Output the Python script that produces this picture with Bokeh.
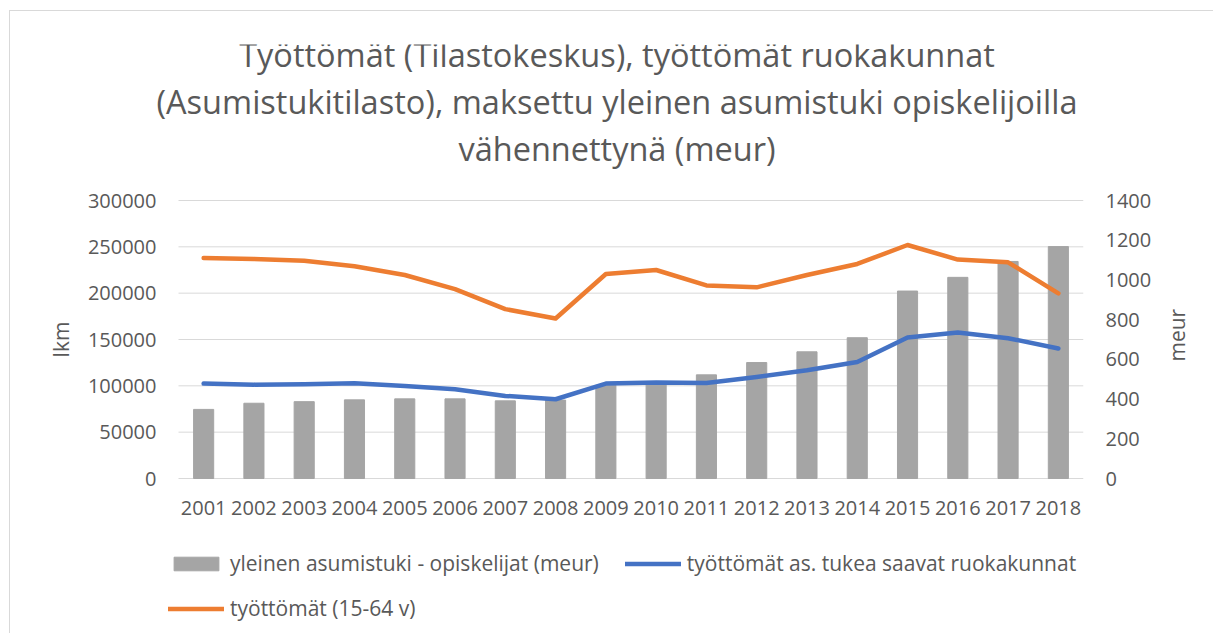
import math
from bokeh.plotting import figure
from bokeh.models import (Range1d, LinearAxis, FixedTicker, Legend, LegendItem,
                          BasicTickFormatter, ColumnDataSource)
from bokeh.core.properties import value
from bokeh.embed import file_html
from bokeh.resources import INLINE

years = list(range(2001, 2019))
year_labels = [str(y) for y in years]
asumistuki_opiskelijat_meur = [348, 379, 387, 396, 401, 401, 391, 395, 470, 475,
                               522, 584, 638, 709, 944, 1013, 1093, 1168]
tyottomat_ruokakunnat = [102400, 101300, 101700, 102800, 99900, 96300, 89100, 85500, 102400,
                         103500, 103100, 109600, 116800, 125800, 152200, 157600, 151400, 140300]
tyottomat_15_64 = [238000, 236900, 235100, 229000, 219600, 204400, 182800, 172700, 220700,
                   225000, 208400, 206300, 219600, 231500, 252000, 236200, 233300, 199800]
left_ticks = [0, 50000, 100000, 150000, 200000, 250000, 300000]
right_ticks = [0, 200, 400, 600, 800, 1000, 1200, 1400]
title_lines = ["Työttömät (Tilastokeskus), työttömät ruokakunnat",
               "(Asumistukitilasto), maksettu yleinen asumistuki opiskelijoilla",
               "vähennettynä (meur)"]

FONT = "Open Sans"
TXT = "#595959"
GRID = "#d9d9d9"

# ---- layout constants (pixels) ----
DATA_PX = 278.0     # height of the 0..max value area
EXTRA_PX = 156.0    # room above (title) and below (years, legend), inside the frame
PLOT_W_PX = 905.0   # width of the 18 year slots
LEFT_PAD_PX = 26.0  # frame extends left of first slot (room for legend/title)
lkm_max = 300000
meur_max = 1400
ext = EXTRA_PX / DATA_PX
lkm_range = Range1d(-lkm_max * ext, lkm_max * (1 + ext))
meur_range = Range1d(-meur_max * ext, meur_max * (1 + ext))
x_lo, x_hi = years[0] - 0.5, years[-1] + 0.5
px_per_year = PLOT_W_PX / len(years)
x_range = Range1d(x_lo - LEFT_PAD_PX / px_per_year, x_hi)

src = ColumnDataSource(dict(year=years, bar=asumistuki_opiskelijat_meur,
                            blue=tyottomat_ruokakunnat, orange=tyottomat_15_64))

p = figure(x_range=x_range, y_range=lkm_range, width=1204, height=623,
           x_axis_location=None, output_backend="svg", toolbar_location=None,
           min_border_left=142, min_border_right=131, min_border_top=33,
           min_border_bottom=0)
p.styles = {"border-top": "1px solid #d9d9d9", "border-left": "1px solid #d9d9d9",
            "margin-left": "9px", "margin-top": "10px"}
p.extra_y_ranges = {"meur": meur_range}
p.outline_line_color = None
p.grid.visible = False

# horizontal gridlines over the year slots only
p.segment(x0=[x_lo] * len(left_ticks), x1=[x_hi] * len(left_ticks),
          y0=left_ticks, y1=left_ticks, line_color=GRID, line_width=1)

bars = p.vbar(x="year", top="bar", bottom=0, width=0.4, source=src, color="#A5A5A5",
              y_range_name="meur")
blue = p.line(x="year", y="blue", source=src, line_width=4.5, color="#4472C4",
              line_join="round", line_cap="round")
orange = p.line(x="year", y="orange", source=src, line_width=4.5, color="#ED7D31",
                line_join="round", line_cap="round")

# year labels under the zero line
p.text(x=years, y=[0] * len(years), text=year_labels, y_offset=29, text_align="center",
       text_baseline="middle", text_font=value(FONT), text_font_size="20px",
       text_color=TXT)

# chart title (three lines above the value area)
title_x = (x_lo + x_hi) / 2
p.text(x=[title_x] * 3, y=[lkm_max] * 3, text=title_lines, y_offset=[-146, -99, -52],
       x_offset=-14, text_align="center", text_baseline="middle",
       text_font=value(FONT), text_font_size="32.5px", text_color=TXT)


def style_axis(ax):
    ax.major_tick_line_color = None
    ax.minor_tick_line_color = None
    ax.major_tick_out = 0
    ax.major_tick_in = 0
    ax.axis_line_color = None
    ax.major_label_text_font = FONT
    ax.major_label_text_font_size = "20px"
    ax.major_label_text_color = TXT
    ax.axis_label_text_font = FONT
    ax.axis_label_text_font_size = "21px"
    ax.axis_label_text_color = TXT
    ax.axis_label_text_font_style = "normal"


ly = p.yaxis[0]
ly.ticker = FixedTicker(ticks=left_ticks)
ly.formatter = BasicTickFormatter(use_scientific=False)
ly.axis_label = "lkm"
style_axis(ly)
ly.major_label_standoff = -4
ly.axis_label_standoff = 10

ry = LinearAxis(y_range_name="meur", ticker=FixedTicker(ticks=right_ticks),
                formatter=BasicTickFormatter(use_scientific=False))
style_axis(ry)
ry.major_label_standoff = 22
p.add_layout(ry, "right")

# right axis title "meur", reading bottom-to-top like the left one
MEUR_LABEL_AT = 589
rlab = LinearAxis(y_range_name="meur", ticker=FixedTicker(ticks=[MEUR_LABEL_AT]),
                  major_label_overrides={MEUR_LABEL_AT: "meur"})
style_axis(rlab)
rlab.major_label_text_font_size = "21px"
rlab.major_label_orientation = math.pi / 2
rlab.major_label_standoff = 23
p.add_layout(rlab, "right")

common = dict(border_line_color=None, background_fill_alpha=0, padding=0, margin=0,
              spacing=26, label_standoff=6, glyph_width=56, glyph_height=17,
              label_text_font=FONT, label_text_font_size="21px", label_text_color=TXT,
              orientation="horizontal")
leg1 = Legend(items=[LegendItem(label="yleinen asumistuki - opiskelijat (meur)", renderers=[bars]),
                     LegendItem(label="työttömät as. tukea saavat ruokakunnat", renderers=[blue])],
              location=(16, 57), **common)
leg2 = Legend(items=[LegendItem(label="työttömät (15-64 v)", renderers=[orange])],
              location=(16, 12), **common)
p.add_layout(leg1)
p.add_layout(leg2)

open("out.html", "w").write(file_html(p, INLINE))
